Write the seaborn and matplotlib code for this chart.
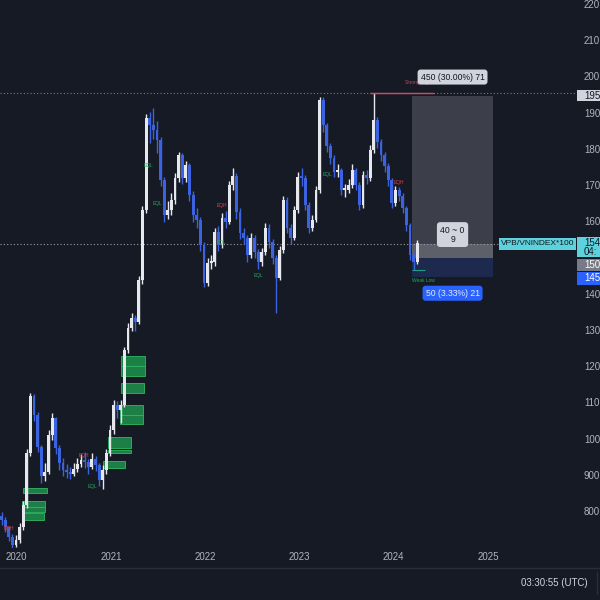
import pandas as pd
import numpy as np
import matplotlib
matplotlib.use('Agg')
import matplotlib.pyplot as plt
import matplotlib.dates as mdates
from matplotlib.patches import Rectangle
from matplotlib.lines import Line2D
import seaborn as sns

# VPB/VNINDEX*100, biweekly candles (open = previous close)
first_open = 790
closes = [778, 758, 731, 708, 722, 758, 819, 963, 1120, 1068,
          979, 899, 910, 1012, 1059, 976, 935, 916, 910, 905,
          918, 932, 943, 938, 924, 946, 929, 888, 916, 963,
          1026, 1095, 1081, 1095, 1247, 1308, 1335, 1324, 1440, 1634,
          1888, 1869, 1855, 1827, 1717, 1620, 1634, 1661, 1722, 1786,
          1722, 1758, 1675, 1620, 1606, 1537, 1432, 1487, 1490, 1573,
          1537, 1612, 1601, 1703, 1728, 1628, 1570, 1556, 1509, 1556,
          1518, 1490, 1518, 1584, 1545, 1501, 1446, 1523, 1661, 1584,
          1556, 1634, 1725, 1722, 1648, 1584, 1606, 1689, 1938, 1869,
          1811, 1777, 1739, 1744, 1689, 1689, 1703, 1744, 1703, 1648,
          1730, 1722, 1800, 1882, 1822, 1786, 1755, 1717, 1653, 1689,
          1672, 1639, 1592, 1509, 1490, 1543]
highs = [800, 785, 762, 738, 735, 770, 830, 975, 1128, 1125,
         1075, 985, 935, 1025, 1074, 1062, 985, 948, 932, 925,
         935, 948, 960, 965, 945, 962, 955, 935, 930, 975,
         1040, 1110, 1105, 1110, 1255, 1322, 1350, 1345, 1452, 1645,
         1900, 1905, 1915, 1880, 1835, 1725, 1660, 1680, 1735, 1795,
         1790, 1770, 1765, 1685, 1640, 1615, 1545, 1500, 1510, 1585,
         1590, 1625, 1630, 1715, 1750, 1735, 1640, 1585, 1565, 1570,
         1565, 1525, 1530, 1598, 1595, 1555, 1510, 1535, 1672, 1670,
         1595, 1645, 1740, 1750, 1730, 1655, 1620, 1700, 1946, 1945,
         1875, 1820, 1785, 1760, 1750, 1705, 1720, 1760, 1750, 1710,
         1742, 1745, 1812, 1957, 1890, 1830, 1795, 1765, 1722, 1700,
         1698, 1680, 1645, 1598, 1515, 1552]
lows = [765, 745, 720, 700, 702, 715, 750, 810, 955, 1050,
        965, 880, 885, 905, 1000, 960, 915, 900, 895, 890,
        898, 910, 925, 920, 905, 918, 912, 872, 862, 905,
        955, 1015, 1060, 1045, 1090, 1240, 1300, 1300, 1318, 1430,
        1625, 1820, 1830, 1790, 1700, 1600, 1610, 1620, 1650, 1712,
        1705, 1710, 1660, 1600, 1585, 1520, 1420, 1425, 1470, 1480,
        1520, 1530, 1585, 1595, 1690, 1610, 1555, 1540, 1490, 1500,
        1500, 1470, 1480, 1510, 1530, 1485, 1350, 1440, 1515, 1570,
        1540, 1550, 1625, 1700, 1635, 1570, 1575, 1600, 1680, 1850,
        1795, 1760, 1725, 1725, 1675, 1670, 1680, 1695, 1690, 1635,
        1640, 1705, 1715, 1790, 1805, 1770, 1740, 1700, 1640, 1645,
        1660, 1625, 1575, 1495, 1468, 1485]
dates = pd.date_range('2019-11-04', periods=len(closes), freq='14D')

# order blocks (green zones)
ob_start = ['2021-02-09', '2021-02-09', '2021-02-09', '2021-02-05', '2021-02-05',
            '2020-12-19', '2020-12-19', '2020-11-30', '2020-01-26', '2020-01-22',
            '2020-01-22', '2020-01-22']
ob_end = ['2021-05-13', '2021-05-13', '2021-05-09', '2021-05-05', '2021-05-05',
          '2021-03-19', '2021-03-19', '2021-02-25', '2020-04-28', '2020-04-20',
          '2020-04-20', '2020-04-17']
ob_low = [1203, 1175, 1128, 1069, 1043, 977, 963, 921, 852, 815, 800, 778]
ob_high = [1230, 1203, 1156, 1095, 1069, 1007, 971, 941, 866, 830, 815, 797]

# structure labels
tag_text = ['EQL', 'EQH', 'EQH', 'EQL', 'EQL', 'EQH', 'EQL', 'EQL', 'EQL', 'EQH']
tag_date = ['2020-10-22', '2020-09-19', '2019-12-03', '2021-05-25', '2021-06-28',
            '2022-03-08', '2022-03-04', '2022-07-27', '2023-04-20', '2024-01-21']
tag_price = [869, 955, 753, 1758, 1653, 1645, 1543, 1454, 1733, 1711]
tag_kind = ['low', 'high', 'high', 'low', 'low', 'high', 'low', 'low', 'low', 'high']

# long position tool
entry, target, stop, last = 1500, 1950, 1450, 1540
swing_high = 1957
pos_start, pos_end = '2024-03-12', '2025-01-20'

year_ticks = [2020, 2021, 2022, 2023, 2024, 2025]
price_ticks = [2200, 2100, 2000, 1900, 1800, 1700, 1600, 1400, 1300, 1200, 1100, 1000, 900, 800]
price_labels = ['220', '210', '200', '190', '180', '170', '160', '140', '130', '120', '110', '100', '900', '800']

BG = '#161a25'
UP = '#e6e8ee'
DOWN = '#3b62e0'
TXT = '#b2b5be'
CYAN = '#5dd2dc'

sns.set_theme(style='dark', rc={'axes.facecolor': BG, 'figure.facecolor': BG})
plt.rcParams['font.family'] = ['Liberation Sans', 'DejaVu Sans']


def yr(f):
    return pd.Timestamp('2020-01-01') + pd.Timedelta(days=(f - 2020) * 365.25)


fig = plt.figure(figsize=(6, 6), dpi=100)
ax = fig.add_axes([0, 52 / 600, 577 / 600, 548 / 600])
ax.set_facecolor(BG)
for s in ax.spines.values():
    s.set_visible(False)

df = pd.DataFrame({'date': dates, 'close': closes, 'high': highs, 'low': lows})
df['open'] = df['close'].shift(1).fillna(first_open)
colors = np.where(df['close'] >= df['open'], UP, DOWN)
body_lo = df[['open', 'close']].min(axis=1)
body_h = (df['close'] - df['open']).abs().clip(lower=5)
ax.vlines(df['date'], df['low'], df['high'], colors=colors, lw=1.0, zorder=3)
ax.bar(df['date'], body_h, bottom=body_lo, width=11, color=colors, linewidth=0, zorder=3)

# order blocks
for s0, s1, lo, hi in zip(ob_start, ob_end, ob_low, ob_high):
    a = mdates.date2num(pd.Timestamp(s0))
    b = mdates.date2num(pd.Timestamp(s1))
    ax.add_patch(Rectangle((a, lo), b - a, hi - lo, fc='#1c8046', ec='#2fb865', lw=0.6, zorder=2))

for t, d, p, k in zip(tag_text, tag_date, tag_price, tag_kind):
    ax.text(pd.Timestamp(d), p, t, fontsize=3.5, ha='center', va='center',
            color='#26a65b' if k == 'low' else '#d9434f', zorder=4)

# position tool
x0 = mdates.date2num(pd.Timestamp(pos_start))
x1 = mdates.date2num(pd.Timestamp(pos_end))
xm = (x0 + x1) / 2
ax.add_patch(Rectangle((x0, entry), x1 - x0, target - entry, fc='#3c3f49', ec='none', zorder=1))
ax.add_patch(Rectangle((x0, entry), x1 - x0, last - entry, fc='#5d6069', ec='none', zorder=1.5))
ax.add_patch(Rectangle((x0, stop), x1 - x0, entry - stop, fc='#1d2a4d', ec='none', zorder=1))

ax.axhline(swing_high, color='#787b86', ls=(0, (1, 2)), lw=0.8, zorder=1)
ax.axhline(last, color='#9a9ca5', ls=(0, (1, 2)), lw=0.8, zorder=2)
ax.hlines(swing_high, yr(2023.75), yr(2024.43), color='#e04660', lw=1.0, zorder=4)
ax.text(yr(2024.26), 1985, 'Strong High', fontsize=3.5, color='#d9434f', ha='center', va='center', zorder=4)
ax.hlines(1468, yr(2024.19), yr(2024.33), color='#1f9e8a', lw=0.8, zorder=4)
ax.text(yr(2024.32), 1438, 'Weak Low', fontsize=3.5, color='#26a65b', ha='center', va='center', zorder=4)

ax.annotate('450 (30.00%) 71', (xm, target), xytext=(0, 13.3), textcoords='offset points',
            ha='center', va='center', fontsize=6.2, color='#131722', zorder=5,
            bbox=dict(boxstyle='round,pad=0.35', fc='#d1d4dc', ec='none'))
ax.annotate('40 ~ 0\n9', (xm, 1566), ha='center', va='center', fontsize=6.2, color='#131722',
            linespacing=1.0, zorder=5, bbox=dict(boxstyle='round,pad=0.4', fc='#d1d4dc', ec='none'))
ax.annotate('50 (3.33%) 21', (xm, stop), xytext=(0, -12), textcoords='offset points',
            ha='center', va='center', fontsize=6.2, color='#e8ecf5', zorder=5,
            bbox=dict(boxstyle='round,pad=0.35', fc='#2962ff', ec='none'))
ax.annotate('VPB/VNINDEX*100', (1, last), xycoords=('axes fraction', 'data'), xytext=(-2, 0),
            textcoords='offset points', ha='right', va='center', fontsize=6, color='#131722', zorder=6,
            bbox=dict(boxstyle='square,pad=0.25', fc=CYAN, ec='none'))

ax.set_xlim(yr(2019.825), yr(2025.944))
ax.set_ylim(700.4, 2213.8)
ax.set_xticks([pd.Timestamp(f'{y}-01-01') for y in year_ticks])
ax.set_xticklabels([str(y) for y in year_ticks])
ax.tick_params(axis='x', length=0, colors=TXT, labelsize=7, pad=3)
ax.set_yticks([])
ax.grid(False)

# price scale
ap = fig.add_axes([577 / 600, 52 / 600, 23 / 600, 548 / 600], sharey=ax)
ap.set_facecolor(BG)
ap.set_xlim(0, 1)
ap.axis('off')
for p, lab in zip(price_ticks, price_labels):
    ap.text(0.3, p, lab, fontsize=7, color=TXT, ha='left', va='center')


def scale_box(lo, hi, fc, lines, tc):
    ap.add_patch(Rectangle((0, lo), 1.2, hi - lo, fc=fc, ec='none', clip_on=False))
    for p, t in lines:
        ap.text(0.3, p, t, fontsize=7, color=tc, ha='left', va='center')


scale_box(1934, 1966, '#d1d4dc', [(1950, '195')], '#131722')
scale_box(1503, 1560, CYAN, [(1543, '154'), (1518, '04:')], '#131722')
scale_box(1465, 1498, '#787b86', [(1481, '150')], '#ffffff')
scale_box(1427, 1463, '#2962ff', [(1445, '145')], '#ffffff')

# bottom bar
fig.add_artist(Line2D([0, 1], [32 / 600, 32 / 600], color='#2a2e39', lw=1))
fig.add_artist(Line2D([597 / 600, 597 / 600], [6 / 600, 28 / 600], color='#2a2e39', lw=1))
fig.text(588 / 600, 17 / 600, '03:30:55 (UTC)', fontsize=7, color='#d1d4dc', ha='right', va='center')

fig.savefig('out.png', dpi=100, facecolor=BG)
